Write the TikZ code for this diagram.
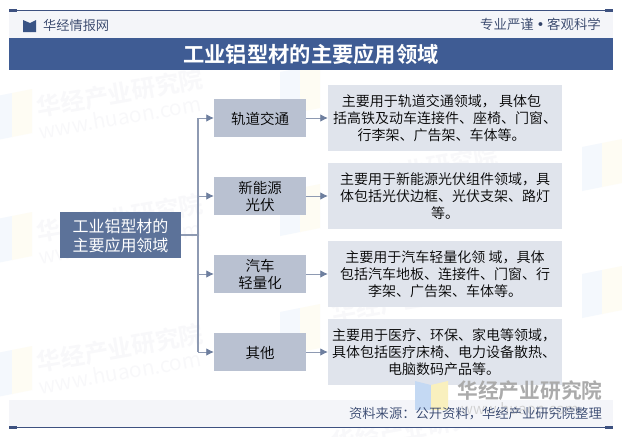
\documentclass[tikz,border=0pt]{standalone}
\usepackage{fontspec}
\setmainfont{Noto Sans CJK SC}[UprightFont={* DemiLight},BoldFont={* Bold}]
\newfontfamily\regfont{Noto Sans CJK SC}
\newfontfamily\dotfont{DejaVu Sans}
\usetikzlibrary{arrows.meta}
\definecolor{barblue}{HTML}{3F5C94}
\definecolor{rootblue}{HTML}{5C7299}
\definecolor{catgray}{HTML}{B9C1D1}
\definecolor{descgray}{HTML}{E0E4EC}
\definecolor{strip}{HTML}{F4F5F9}
\definecolor{rule}{HTML}{3D5180}
\definecolor{conn}{HTML}{8E9AB2}
\definecolor{head}{HTML}{6E7F9F}
\definecolor{wmark}{HTML}{F8F8FA}
\definecolor{wmblue}{HTML}{F4F8FD}
\definecolor{wmyellow}{HTML}{FEFCF3}
\definecolor{logoblue}{HTML}{C4D9F3}
\definecolor{logoyellow}{HTML}{F9F0BE}
\newcommand\lk{\kern7pt\\}
\newcommand\lj{\kern2pt\\}
\tikzset{
  x=1pt,y=-1pt,
  rootbox/.style={fill=rootblue,text=white,minimum width=121pt,minimum height=46pt,inner sep=0pt,align=center,font=\fontsize{16}{19}\selectfont\regfont,text depth=-3.5pt},
  catbox/.style={fill=catgray,text=black,minimum width=92pt,minimum height=38pt,inner sep=0pt,align=center,font=\fontsize{14.5}{17.5}\selectfont,text depth=-2.5pt},
  descbox/.style={fill=descgray,text=black,minimum width=234pt,minimum height=66pt,inner sep=0pt,align=center,font=\fontsize{14}{17}\selectfont,text depth=-3pt},
  trunkline/.style={draw=conn,line width=1.1pt},
  armline/.style={draw=conn,line width=0.8pt,-{Latex[length=7.5pt,width=7.5pt,color=head]}},
  wmtext/.style={text=wmark,rotate=10,font=\fontsize{24}{24}\selectfont\bfseries,inner sep=0pt},
  wmurl/.style={text=wmark,rotate=10,font=\fontsize{21}{21}\selectfont,inner sep=0pt},
  logo/.pic={
    \fill[wmblue] (-20,-18) -- (0,-22) -- (0,22) -- (-20,26) -- cycle;
    \fill[wmyellow] (0,-22) -- (20,-26) -- (20,18) -- (0,22) -- cycle;
  },
}
\begin{document}
\begin{tikzpicture}
\useasboundingbox (0,0) rectangle (622,437);
\fill[white] (0,0) rectangle (622,437);
\clip (0,0) rectangle (622,437);
% faint watermarks
\foreach \wx/\wy in {12/115,12/238,12/372,300/90,300/210,300/330,602/165,602/292}{
  \pic at (\wx,\wy) {logo};
}
\foreach \wx/\wy in {120/93,120/218,120/348}{
  \node[wmtext] at (\wx,\wy) {华经产业研究院};
  \node[wmurl] at (\wx,\wy+24) {www.huaon.com};
}
\foreach \wx/\wy in {415/170,415/298,415/428}{
  \node[wmtext] at (\wx,\wy) {华经产业研究院};
}
% header
\fill[strip] (9,11) rectangle (613,38);
\draw[rule,line width=0.9pt] (9,10.5) -- (612,10.5);
\fill[rule] (9,9) rectangle (17,12);
\fill[rule] (605,9) rectangle (613,12);
\fill[barblue!90!black] (23,20) -- (30,23) -- (30,32) -- (23,32) -- cycle;
\fill[barblue!90!black] (36,20) -- (30,23) -- (30,32) -- (36,32) -- cycle;
\node[anchor=west,inner sep=0pt,text=rule!80!black,font=\fontsize{13.2}{15}\selectfont] (brand) at (43,25) {华经情报网};
\node[anchor=east,inner sep=0pt,text=rule!80!black,font=\fontsize{13.4}{15}\selectfont] (motto) at (601,24) {专业严谨\makebox[13.4pt]{\dotfont •}客观科学};
\node[fill=barblue,minimum width=604pt,minimum height=32pt,inner sep=0pt,text=white,font=\fontsize{21.3}{24}\selectfont\bfseries] (title) at (311,54) {工业铝型材的主要应用领域};
% footer
\fill[strip] (9,400) rectangle (613,427);
\draw[rule,line width=0.9pt] (9,427.5) -- (612,427.5);
\fill[rule] (9,426) rectangle (17,429);
\fill[rule] (605,426) rectangle (613,429);
% nodes
\node[rootbox] (root) at (120.5,235) {工业铝型材的\\主要应用领域};
\node[catbox] (c1) at (260,118) {轨道交通};
\node[catbox] (c2) at (260,196) {新能源\\光伏};
\node[catbox] (c3) at (260,274) {汽车\\轻量化};
\node[catbox] (c4) at (260,352) {其他};
\node[descbox] (d1) at (445,118) {主要用于轨道交通领域， 具体包\lk 括高铁及动车连接件、座椅、门窗、\\行李架、广告架、车体等。\kern7pt};
\node[descbox] (d2) at (445,196) {主要用于新能源光伏组件领域，具\\体包括光伏边框、光伏支架、路灯\\等。};
\node[descbox] (d3) at (445,274) {主要用于汽车轻量化领 域，具体\\包括汽车地板、连接件、门窗、行\\李架、广告架、车体等。};
\node[descbox] (d4) at (445,352) {主要用于医疗、环保、家电等领域，\lj 具体包括医疗床椅、电力设备散热、\lj 电脑数码产品等。\kern2pt};
% logo
\fill[logoblue] (415,381) -- (431,385) -- (431,410) -- (415,410) -- cycle;
\fill[logoyellow] (431,385) -- (448,381) -- (448,410) -- (431,410) -- cycle;
\node[inner sep=0pt,text=black!33,font=\fontsize{20.7}{22}\selectfont\bfseries] (wmlogo) at (530,391) {华经产业研究院};
\node[inner sep=0pt,text=black!18,font=\fontsize{15}{15}\selectfont] (wmsite) at (520,409) {www.huaon.com};
\node[anchor=east,inner sep=0pt,text=rule!85!black,font=\fontsize{13.3}{15}\selectfont] (source) at (602,414) {资料来源：公开资料，华经产业研究院整理};
% connectors
\coordinate (tj) at (198,235);
\draw[trunkline] (root.east) -- (tj);
\draw[trunkline] (tj |- c1.west) -- (tj |- c4.west);
\foreach \n in {1,2,3,4}{
  \draw[armline] (tj |- c\n.west) -- (c\n.west);
  \draw[armline] (c\n.east) -- (d\n.west);
}
\end{tikzpicture}
\end{document}
